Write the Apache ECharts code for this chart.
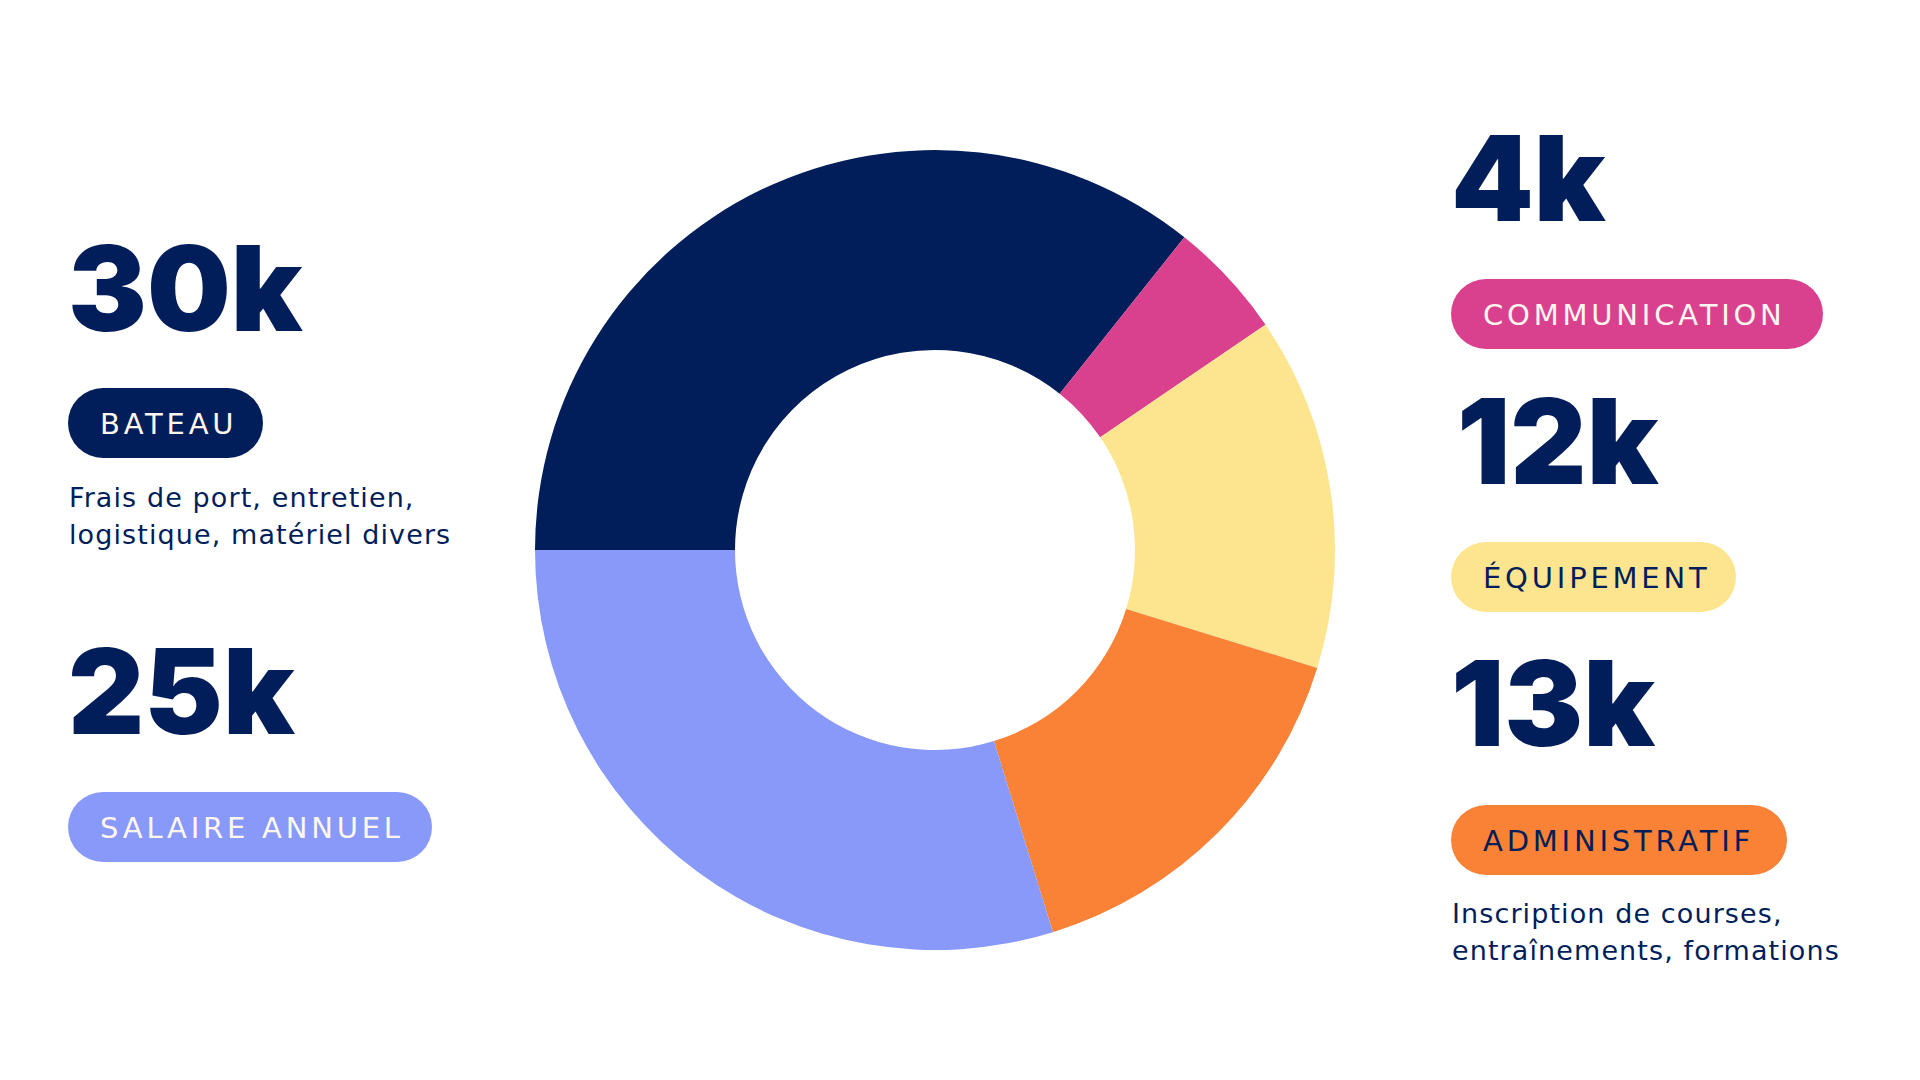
<!DOCTYPE html>
<html lang="fr">
<head>
<meta charset="utf-8">
<title>Budget</title>
<script src="https://cdn.jsdelivr.net/npm/echarts@6/dist/echarts.min.js"></script>
<style>
  html, body { margin: 0; padding: 0; background: #fff; }
  #chart { width: 1920px; height: 1080px; }
  /* letter spacing of the pill labels and descriptions (svg text) */
  #chart text[style*="29px"] { letter-spacing: 3.8px; }
  #chart text[style*="27px"] { letter-spacing: 1.1px; }
</style>
</head>
<body>
<div id="chart"></div>
<script>
// budget, en milliers d'euros
const categories = ['Bateau', 'Communication', 'Équipement', 'Administratif', 'Salaire annuel'];
const values = [30, 4, 12, 13, 25];
const tagLabels = ['BATEAU', 'COMMUNICATION', 'ÉQUIPEMENT', 'ADMINISTRATIF', 'SALAIRE ANNUEL'];
const descriptions = [
  ['Frais de port, entretien,', 'logistique, matériel divers'],
  [],
  [],
  ['Inscription de courses,', 'entraînements, formations'],
  []
];

const colors = ['#021e5a', '#d9418f', '#fde58f', '#f98236', '#8899fa'];
const tagText = ['#fff7ee', '#fff7ee', '#021e5a', '#021e5a', '#fff7ee'];
const navy = '#021e5a';

// placement of each block (big number, pill, description)
const blocks = [
  {x: 68, numX: 68, numY: 288, pillY: 388, pillW: 195, descY: 497},
  {x: 1451, numX: 1451, numY: 178, pillY: 279, pillW: 372, descY: 0},
  {x: 1451, numX: 1457, numY: 441, pillY: 542, pillW: 285, descY: 0},
  {x: 1451, numX: 1451, numY: 703, pillY: 805, pillW: 336, descY: 913},
  {x: 68, numX: 68, numY: 691, pillY: 792, pillW: 364, descY: 0}
];

const chart = echarts.init(document.getElementById('chart'), null, {renderer: 'svg'});

const graphics = [];
blocks.forEach((b, i) => {
  graphics.push({
    type: 'text', x: b.numX, y: b.numY, z: 10,
    style: {
      text: values[i] + 'k', fill: navy, fontSize: 118, fontWeight: 900,
      fontFamily: 'Inter', verticalAlign: 'middle'
    }
  });
  graphics.push({
    type: 'rect', x: b.x, y: b.pillY, z: 5,
    shape: {x: 0, y: 0, width: b.pillW, height: 70, r: 35},
    style: {fill: colors[i]}
  });
  graphics.push({
    type: 'text', x: b.x + 32, y: b.pillY + 36, z: 10,
    style: {
      text: tagLabels[i], fill: tagText[i], fontSize: 29,
      fontFamily: 'DejaVu Sans', verticalAlign: 'middle'
    }
  });
  descriptions[i].forEach((line, j) => {
    graphics.push({
      type: 'text', x: b.x + 1, y: b.descY + j * 37, z: 10,
      style: {
        text: line, fill: navy, fontSize: 27,
        fontFamily: 'DejaVu Sans', verticalAlign: 'middle'
      }
    });
  });
});

const option = {
  animation: false,
  backgroundColor: '#ffffff',
  color: colors,
  graphic: graphics,
  series: [
    {
      name: 'Budget',
      type: 'pie',
      center: [935, 550],
      radius: [200, 400],
      startAngle: 180,
      clockwise: true,
      label: {show: false},
      labelLine: {show: false},
      emphasis: {disabled: true},
      data: categories.map((c, i) => ({name: c, value: values[i]}))
    }
  ]
};
chart.setOption(option);
</script>
</body>
</html>
